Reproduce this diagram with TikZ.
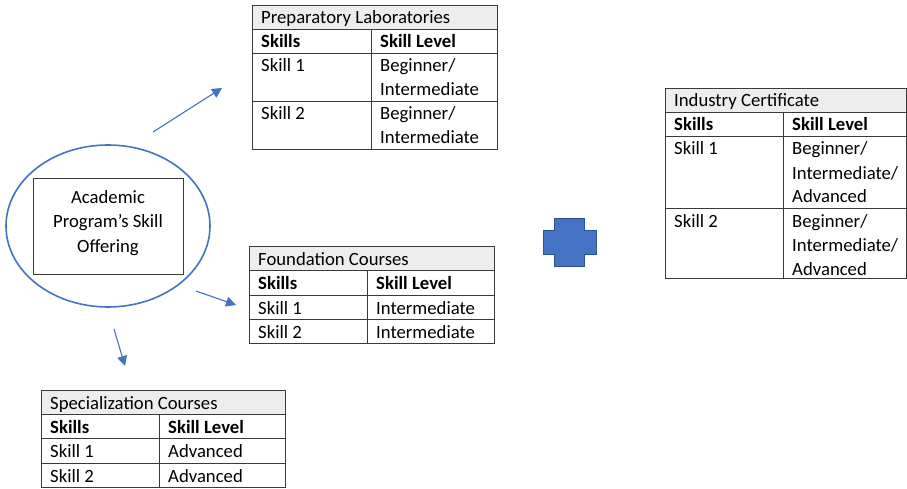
\documentclass[tikz,border=0pt]{standalone}
\usepackage{fontspec}
\setmainfont{Carlito}
\usetikzlibrary{arrows.meta}
\definecolor{accent}{HTML}{4472C4}
\definecolor{accentdark}{HTML}{2F528F}
\definecolor{hdr}{HTML}{EDEDED}
\definecolor{rulec}{HTML}{3A3A3A}
\begin{document}
\begin{tikzpicture}[x=1pt,y=-1pt,
  cell/.style={anchor=north west, inner sep=0pt, align=left, yshift=-1pt, font=\fontsize{18.7}{24}\selectfont},
  center text/.style={anchor=center, inner sep=0pt, align=center, font=\fontsize{18.7}{24.5}\selectfont},
  frame/.style={draw=rulec, line width=0.9pt, inner sep=0pt, anchor=north west},
  rulel/.style={draw=rulec, line width=0.9pt},
  hdrfill/.style={fill=hdr},
  conn/.style={draw=accent, line width=1.1pt, -{Triangle[length=10pt,width=10pt]}},
  crossshape/.style={fill=accent, draw=accentdark, line width=0.8pt}]
\useasboundingbox (0,0) rectangle (907,489);
\fill[white] (0,0) rectangle (907,489);

% ---------- Preparatory Laboratories ----------
\fill[hdrfill] (252,5) rectangle (497,29);
\node[frame, minimum width=245pt, minimum height=144pt] (prep) at (252,5) {};
\draw[rulel] (252,29) -- (497,29);
\draw[rulel] (252,53) -- (497,53);
\draw[rulel] (252,101) -- (497,101);
\draw[rulel] (371,29) -- (371,149);
\node[cell] (prep-t) at (261,6) {\strut Preparatory Laboratories};
\node[cell] (prep-h1) at (261,30) {\strut\textbf{Skills}};
\node[cell] (prep-h2) at (380,30) {\strut\textbf{Skill Level}};
\node[cell] (prep-s1) at (261,54) {\strut Skill 1};
\node[cell] (prep-l1) at (380,54) {\strut Beginner/\\\strut Intermediate};
\node[cell] (prep-s2) at (261,102) {\strut Skill 2};
\node[cell] (prep-l2) at (380,102) {\strut Beginner/\\\strut Intermediate};

% ---------- Industry Certificate ----------
\fill[hdrfill] (665,88) rectangle (906,112);
\node[frame, minimum width=241pt, minimum height=190pt] (ind) at (665,88) {};
\draw[rulel] (665,112) -- (906,112);
\draw[rulel] (665,136) -- (906,136);
\draw[rulel] (665,208) -- (906,208);
\draw[rulel] (783,112) -- (783,278);
\node[cell] (ind-t) at (674,89) {\strut Industry Certificate};
\node[cell] (ind-h1) at (674,113) {\strut\textbf{Skills}};
\node[cell] (ind-h2) at (792,113) {\strut\textbf{Skill Level}};
\node[cell] (ind-s1) at (674,137) {\strut Skill 1};
\node[cell] (ind-l1) at (792,137) {\strut Beginner/\\\strut Intermediate/\\\strut Advanced};
\node[cell] (ind-s2) at (674,209) {\strut Skill 2};
\node[cell] (ind-l2) at (792,209) {\strut Beginner/\\\strut Intermediate/\\\strut Advanced};

% ---------- Foundation Courses ----------
\fill[hdrfill] (249,246) rectangle (494,270);
\node[frame, minimum width=245pt, minimum height=97pt] (fnd) at (249,246) {};
\draw[rulel] (249,270) -- (494,270);
\draw[rulel] (249,295) -- (494,295);
\draw[rulel] (249,319) -- (494,319);
\draw[rulel] (367,270) -- (367,343);
\node[cell] (fnd-t) at (258,247) {\strut Foundation Courses};
\node[cell] (fnd-h1) at (258,271) {\strut\textbf{Skills}};
\node[cell] (fnd-h2) at (376,271) {\strut\textbf{Skill Level}};
\node[cell] (fnd-s1) at (258,296) {\strut Skill 1};
\node[cell] (fnd-l1) at (376,296) {\strut Intermediate};
\node[cell] (fnd-s2) at (258,320) {\strut Skill 2};
\node[cell] (fnd-l2) at (376,320) {\strut Intermediate};

% ---------- Specialization Courses ----------
\fill[hdrfill] (41,390) rectangle (285,414);
\node[frame, minimum width=244pt, minimum height=97pt] (spc) at (41,390) {};
\draw[rulel] (41,414) -- (285,414);
\draw[rulel] (41,438) -- (285,438);
\draw[rulel] (41,463) -- (285,463);
\draw[rulel] (159,414) -- (159,487);
\node[cell] (spc-t) at (50,391) {\strut Specialization Courses};
\node[cell] (spc-h1) at (50,415) {\strut\textbf{Skills}};
\node[cell] (spc-h2) at (168,415) {\strut\textbf{Skill Level}};
\node[cell] (spc-s1) at (50,439) {\strut Skill 1};
\node[cell] (spc-l1) at (168,439) {\strut Advanced};
\node[cell] (spc-s2) at (50,464) {\strut Skill 2};
\node[cell] (spc-l2) at (168,464) {\strut Advanced};

% ---------- Academic program ellipse ----------
\draw[accent, line width=1.6pt] (108,226) ellipse [x radius=102, y radius=81];
\node[frame, minimum width=150pt, minimum height=96pt] (prog) at (33,178) {};
\node[center text] (prog-txt) at (108,223) {Academic\\Program’s Skill\\Offering};

% ---------- arrows ----------
\coordinate (a1s) at (153,132);
\coordinate (a1e) at (222,88);
\coordinate (a2s) at (196,291);
\coordinate (a2e) at (236,305);
\coordinate (a3s) at (114,329);
\coordinate (a3e) at (125,366);
\draw[conn] (a1s) -- (a1e);
\draw[conn] (a2s) -- (a2e);
\draw[conn] (a3s) -- (a3e);

% ---------- plus sign ----------
\draw[crossshape] (554,218) -- (584,218) -- (584,230) -- (596,230) -- (596,254)
  -- (584,254) -- (584,266) -- (554,266) -- (554,254) -- (543,254) -- (543,230)
  -- (554,230) -- cycle;
\end{tikzpicture}
\end{document}
